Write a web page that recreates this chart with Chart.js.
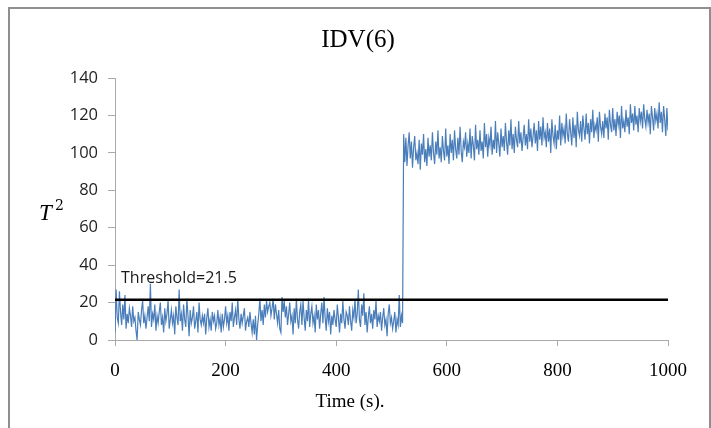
<!DOCTYPE html>
<html>
<head>
<meta charset="utf-8">
<title>IDV(6)</title>
<script src="https://cdn.jsdelivr.net/npm/chart.js@4.4.1/dist/chart.umd.min.js"></script>
<style>
  html, body { margin: 0; padding: 0; background: #ffffff; }
  body { width: 711px; height: 428px; position: relative; overflow: hidden; }
  #frame {
    position: absolute; left: 8px; top: 7px; width: 699px; height: 440px;
    border-left: 2px solid #8f8f8f; border-top: 2px solid #8f8f8f; border-right: 2px solid #8f8f8f;
  }
  #chart { position: absolute; left: 0; top: 0; }
</style>
</head>
<body>
<div id="frame"></div>
<canvas id="chart" width="711" height="428"></canvas>
<script>
// Chart text
const chartTitle = 'IDV(6)';
const xTitle = 'Time (s).';
const yTitle = 'T';
const yTitleSup = '2';

// Axis ticks
const xTicks = [0, 200, 400, 600, 800, 1000];
const yTicks = [0, 20, 40, 60, 80, 100, 120, 140];

// Control limit
const threshold = 21.5;

// Sampling interval of the monitored statistic, seconds
const timeStep = 2;

// T^2 statistic before the fault (t = 0 ... 520 s)
const t2Normal = [
  4, 27, 12, 9, 26, 15, 8, 19, 11, 24,
  6, 14, 9, 17, 13, 7, 18, 10, 12, 5,
  0, 15, 11, 8, 16, 21, 9, 13, 6, 12,
  18, 10, 30, 7, 14, 11, 19, 5, 13, 9,
  15, 20, 8, 12, 4, 17, 10, 14, 21, 6,
  11, 16, 9, 13, 3, 18, 12, 8, 27, 10,
  14, 5, 19, 11, 7, 22, 13, 2, 16, 9,
  12, 18, 6, 10, 15, 4, 20, 11, 8, 13,
  9, 14, 3, 12, 17, 7, 11, 5, 15, 10,
  13, 6, 9, 16, 8, 12, 4, 14, 7, 11,
  18, 9, 13, 5, 15, 10, 20, 7, 12, 16,
  8, 22, 11, 6, 14, 9, 13, 17, 5, 10,
  12, 7, 15, 9, 4, 11, 3, 13, 0, 8,
  14, 22, 10, 16, 8, 19, 12, 21, 15, 18,
  20, 13, 17, 22, 11, 19, 14, 9, 16, 6,
  4, 23, 15, 21, 12, 18, 8, 14, 20, 10,
  13, 3, 17, 9, 22, 11, 6, 15, 19, 8,
  21, 12, 5, 16, 10, 22, 7, 14, 18, 9,
  13, 4, 19, 11, 16, 6, 14, 20, 9, 23,
  12, 5, 17, 10, 15, 3, 13, 8, 16, 11,
  7, 19, 12, 4, 14, 9, 21, 11, 6, 15,
  13, 8, 18, 10, 5, 16, 12, 22, 9, 14,
  27, 11, 7, 19, 13, 25, 8, 15, 4, 12,
  18, 9, 14, 6, 16, 11, 21, 7, 13, 10,
  15, 5, 12, 17, 8, 11, 2, 14, 19, 9,
  12, 6, 10, 15, 4, 11, 8, 24, 7, 13,
  9
];

// T^2 statistic after the fault (t = 522 ... 1000 s)
const t2Fault = [
  110, 95, 108, 93, 104, 111, 97, 106, 92,
  103, 109, 96, 100, 94, 107, 91, 105, 99, 110,
  95, 102, 93, 108, 98, 104, 96, 111, 100, 94,
  106, 99, 112, 97, 103, 95, 109, 101, 96, 113,
  98, 104, 94, 110, 100, 107, 96, 112, 102, 97,
  108, 99, 114, 101, 95, 106, 103, 111, 98, 105,
  100, 113, 97, 109, 104, 96, 115, 102, 107, 99,
  112, 101, 106, 97, 116, 103, 110, 98, 108, 104,
  114, 99, 107, 102, 117, 100, 111, 105, 98, 113,
  103, 109, 101, 116, 106, 99, 112, 104, 118, 102,
  110, 100, 114, 107, 103, 117, 105, 111, 101, 108,
  115, 104, 110, 102, 118, 106, 113, 103, 109, 116,
  105, 112, 101, 117, 107, 114, 104, 119, 108, 111,
  103, 116, 106, 113, 100, 118, 109, 105, 115, 102,
  112, 107, 120, 104, 116, 109, 113, 105, 121, 110,
  106, 118, 111, 104, 119, 108, 115, 103, 122, 112,
  109, 117, 106, 120, 113, 107, 121, 110, 116, 105,
  118, 111, 123, 108, 115, 112, 119, 106, 122, 114,
  110, 117, 108, 121, 113, 119, 107, 123, 115, 111,
  124, 112, 118, 109, 122, 115, 120, 108, 125, 113,
  117, 111, 123, 114, 119, 110, 126, 116, 121, 112,
  125, 115, 120, 111, 124, 117, 122, 113, 126, 118,
  114, 123, 116, 121, 110, 125, 119, 112, 124, 117,
  121, 113, 127, 116, 122, 111, 125, 118, 109, 124,
  112
];

const t2Values = t2Normal.concat(t2Fault);
const t2Points = t2Values.map((v, i) => ({ x: i * timeStep, y: v }));
const thresholdPoints = [
  { x: xTicks[0], y: threshold },
  { x: xTicks[xTicks.length - 1], y: threshold }
];

const axisColor = '#a9a9a9';

// Title, axis titles and the threshold caption
const chartText = {
  id: 'chartText',
  afterDraw(chart) {
    const { ctx } = chart;
    const xs = chart.scales.x, ys = chart.scales.y;
    ctx.save();
    ctx.fillStyle = '#000000';
    ctx.textAlign = 'center';
    ctx.textBaseline = 'middle';
    ctx.font = '25px "Liberation Serif"';
    ctx.fillText(chartTitle, 358, 40);
    ctx.font = '19px "Liberation Serif"';
    ctx.fillText(xTitle, 350, 402);

    ctx.textAlign = 'left';
    ctx.textBaseline = 'alphabetic';
    ctx.font = 'italic 23px "Liberation Serif"';
    ctx.fillText(yTitle, 39, 220);
    ctx.font = '14px "DejaVu Serif"';
    ctx.fillText(yTitleSup, 55, 210);

    ctx.fillStyle = '#1a1a1a';
    ctx.textBaseline = 'middle';
    ctx.font = '16px "Open Sans"';
    ctx.fillText('Threshold=' + threshold,
      xs.getPixelForValue(xTicks[0]) + 6,
      ys.getPixelForValue(threshold) - 21);
    ctx.restore();
  }
};

new Chart(document.getElementById('chart'), {
  type: 'line',
  data: {
    datasets: [
      {
        label: 'Threshold',
        data: thresholdPoints,
        borderColor: '#000000',
        borderWidth: 2.4,
        pointRadius: 0,
        order: 0
      },
      {
        label: 'T2',
        data: t2Points,
        borderColor: '#4a7ebb',
        borderWidth: 1.2,
        pointRadius: 0,
        tension: 0,
        order: 1
      }
    ]
  },
  options: {
    responsive: false,
    animation: false,
    events: [],
    layout: { padding: { top: 78, right: 43, bottom: 0, left: 0 } },
    plugins: {
      legend: { display: false },
      title: { display: false },
      tooltip: { enabled: false }
    },
    scales: {
      x: {
        type: 'linear',
        min: xTicks[0],
        max: xTicks[xTicks.length - 1],
        afterBuildTicks(scale) { scale.ticks = xTicks.map(v => ({ value: v })); },
        afterFit(scale) { scale.height = 88; },
        border: { display: true, color: axisColor, width: 1 },
        grid: { display: true, drawOnChartArea: false, drawTicks: true, tickLength: 6, color: axisColor },
        ticks: {
          padding: 14,
          maxRotation: 0,
          color: '#000000',
          font: { family: 'Liberation Serif', size: 19 },
          callback: (v) => String(v)
        }
      },
      y: {
        min: yTicks[0],
        max: yTicks[yTicks.length - 1],
        afterBuildTicks(scale) { scale.ticks = yTicks.map(v => ({ value: v })); },
        afterFit(scale) { scale.width = 115; },
        border: { display: true, color: axisColor, width: 1 },
        grid: { display: true, drawOnChartArea: false, drawTicks: true, tickLength: 7, color: axisColor },
        ticks: {
          padding: 10,
          color: '#1f1f1f',
          font: { family: 'Open Sans', size: 16.5 },
          callback: (v) => String(v)
        }
      }
    }
  },
  plugins: [chartText]
});
</script>
</body>
</html>
